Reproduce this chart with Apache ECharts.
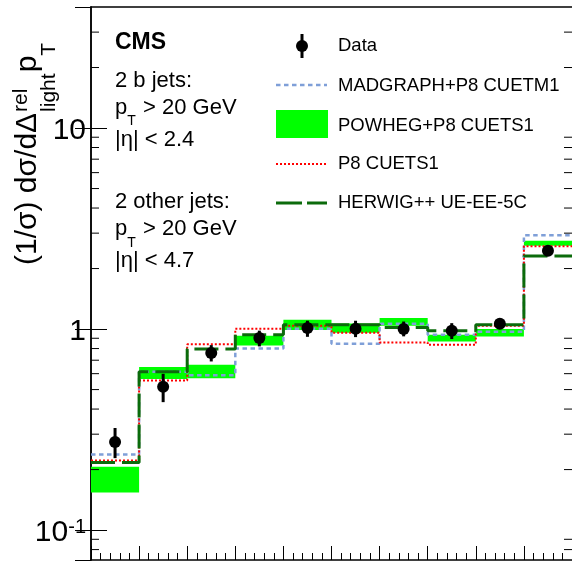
<!DOCTYPE html>
<html><head><meta charset="utf-8">
<script src="https://cdn.jsdelivr.net/npm/echarts@6/dist/echarts.min.js"></script>
<style>html,body{margin:0;padding:0;background:#fff}#c{width:572px;height:562px}</style>
</head><body><div id="c"></div>
<script>
// ---- data ----
const binEdges = [0, 0.1, 0.2, 0.3, 0.4, 0.5, 0.6, 0.7, 0.8, 0.9, 1.0];
const dataVal = [0.274, 0.516, 0.760, 0.902, 1.011, 1.003, 1.000, 0.980, 1.063, 2.45];
const dataLo  = [0.228, 0.433, 0.690, 0.820, 0.915, 0.912, 0.920, 0.892, 1.035, 2.38];
const dataHi  = [0.322, 0.599, 0.832, 0.982, 1.100, 1.100, 1.090, 1.070, 1.090, 2.52];
const madgraph = [0.238, 0.613, 0.590, 0.800, 1.003, 0.845, 1.063, 0.937, 0.970, 2.93];
const powhegLo = [0.154, 0.564, 0.570, 0.829, 0.990, 0.960, 1.039, 0.868, 0.919, 2.60];
const powhegHi = [0.2065, 0.647, 0.664, 0.926, 1.113, 1.065, 1.134, 0.937, 1.000, 2.75];
const p8 = [0.222, 0.555, 0.840, 1.003, 1.040, 0.960, 0.858, 0.835, 1.040, 2.58];
const herwig = [0.217, 0.613, 0.797, 0.938, 1.050, 1.050, 1.019, 0.980, 1.050, 2.31];
const yMajorTicks = [0.1, 1, 10];
const yMajorLabels = ['{b|10}{s|-1}', '{b|1}', '{b|10}'];
const yMinorTicks = [0.08, 0.09, 0.2, 0.3, 0.4, 0.5, 0.6, 0.7, 0.8, 0.9, 2, 3, 4, 5, 6, 7, 8, 9, 20, 30];
const seriesNames = ['Data', 'MADGRAPH+P8 CUETM1', 'POWHEG+P8 CUETS1', 'P8 CUETS1', 'HERWIG++ UE-EE-5C'];
const infoLines1 = ['2 b jets:', '|\u03b7| < 2.4'];
const infoLines2 = ['2 other jets:', '|\u03b7| < 4.7'];

// ---- style ----
const FONT = '"Liberation Sans", Arial, Helvetica, sans-serif';
const C_BLUE = '#7f9fd8', C_GREEN = '#00ff00', C_RED = '#ff0000', C_DKGREEN = '#0b6b0b';
const DASH_BLUE = [4.5, 3.5], DASH_RED = [2, 2], DASH_DK = [24, 7];

const measureCtx = document.createElement('canvas').getContext('2d');
function tw(t, size, weight) { measureCtx.font = (weight || 'normal') + ' ' + size + 'px ' + FONT; return measureCtx.measureText(t).width; }

function stepData(vals) {
  const d = vals.map((v, i) => [binEdges[i], v]);
  d.push([binEdges[vals.length], vals[vals.length - 1]]);
  return d;
}
function txt(x, y, text, size, opts) {
  opts = opts || {};
  return { type: 'text', x: x, y: y, z: 100, style: {
    text: text, fill: '#000', fontSize: size, fontFamily: FONT, fontWeight: opts.weight || 'normal',
    align: opts.align || 'left', verticalAlign: 'middle', textAlign: opts.align || 'left', textVerticalAlign: 'middle' } };
}

// ---- y-axis title (rotated) ----
const TF = 30, TS = 21;
const mainT = '(1/\u03c3) d\u03c3/d\u0394';
const wMain = tw(mainT, TF);
const xs = wMain + 1;
const xp = xs + Math.max(tw('rel', TS), tw('light', TS)) + 1;
const xT = xp + tw('p', TF);
const titleGroup = { type: 'group', x: 0, y: 265, rotation: Math.PI / 2, children: [
  txt(0, 38 - 0.35 * TF, mainT, TF),
  txt(xs, 29 - 0.35 * TS, 'rel', TS),
  txt(xs, 57 - 0.35 * TS, 'light', TS),
  txt(xp, 38 - 0.35 * TF, 'p', TF),
  txt(xT, 57 - 0.35 * TS, 'T', TS)
] };

// ---- info text ----
const IF = 22, SF = 14;
const info = [
  txt(115, 43, 'CMS', 23, { weight: 'bold' }),
  txt(115, 81, infoLines1[0], IF),
  txt(115, 107.5, 'p', IF), txt(115 + tw('p', IF), 121.5, 'T', SF), txt(143, 107.5, '> 20 GeV', IF),
  txt(115, 140, infoLines1[1], IF),
  txt(115, 201.5, infoLines2[0], IF),
  txt(115, 229, 'p', IF), txt(115 + tw('p', IF), 243, 'T', SF), txt(143, 229, '> 20 GeV', IF),
  txt(115, 260.5, infoLines2[1], IF)
];

// ---- legend ----
const LF = 18.5, LX = 338;
const legend = [
  { type: 'line', z: 100, shape: { x1: 302, y1: 34, x2: 302, y2: 58 }, style: { stroke: '#000', lineWidth: 3 } },
  { type: 'circle', z: 100, shape: { cx: 302, cy: 46, r: 6 }, style: { fill: '#000' } },
  txt(LX, 45.5, seriesNames[0], LF),
  { type: 'line', z: 100, shape: { x1: 276, y1: 85, x2: 327, y2: 85 }, style: { stroke: C_BLUE, lineWidth: 2.5, lineDash: DASH_BLUE } },
  txt(LX, 85.5, seriesNames[1], LF),
  { type: 'rect', z: 100, shape: { x: 276, y: 110, width: 52, height: 28 }, style: { fill: C_GREEN } },
  txt(LX, 126.3, seriesNames[2], LF),
  { type: 'line', z: 100, shape: { x1: 276, y1: 164, x2: 327, y2: 164 }, style: { stroke: C_RED, lineWidth: 2, lineDash: DASH_RED } },
  txt(LX, 163.7, seriesNames[3], LF),
  { type: 'line', z: 100, shape: { x1: 276, y1: 203, x2: 327, y2: 203 }, style: { stroke: C_DKGREEN, lineWidth: 3, lineDash: [26, 5] } },
  txt(LX, 203, seriesNames[4], LF)
];

// ---- chart ----
const chart = echarts.init(document.getElementById('c'), null, { renderer: 'canvas' });
const yAxisBase = {
  type: 'log', logBase: 10, min: 0.071, max: 40,
  axisLine: { show: true, lineStyle: { color: '#000', width: 1.5 } },
  axisTick: { show: true, inside: true, length: 16, lineStyle: { color: '#000', width: 1 } },
  splitLine: { show: false }, minorTick: { show: false }, minorSplitLine: { show: false }
};
function labelFor(value) {
  for (let i = 0; i < yMajorTicks.length; i++) {
    if (Math.abs(Math.log10(value) - Math.log10(yMajorTicks[i])) < 1e-6) return yMajorLabels[i];
  }
  return '';
}
const option = {
  animation: false,
  backgroundColor: '#fff',
  grid: { left: 91, right: 0, top: 7, bottom: 2, containLabel: false, outerBoundsMode: 'none' },
  xAxis: [
    { type: 'value', position: 'bottom', min: 0, max: 1, interval: 0.1,
      axisLine: { show: true, onZero: false, lineStyle: { color: '#000', width: 1.5 } },
      axisTick: { show: true, inside: true, length: 14, lineStyle: { color: '#000', width: 1 } },
      minorTick: { show: true, splitNumber: 5, length: 7, lineStyle: { color: '#000', width: 1 } },
      axisLabel: { show: false }, splitLine: { show: false } },
    { type: 'value', position: 'top', min: 0, max: 1,
      axisLine: { show: true, onZero: false, lineStyle: { color: '#000', width: 1.5 } },
      axisTick: { show: false }, axisLabel: { show: false }, splitLine: { show: false } }
  ],
  yAxis: [
    Object.assign({}, yAxisBase, { position: 'left',
      axisLabel: { show: true, margin: 5, showMinLabel: false, showMaxLabel: false, formatter: labelFor,
        rich: { b: { fontSize: 30, fontFamily: FONT, color: '#000', lineHeight: 36, padding: [5, 0, 0, 0] },
                s: { fontSize: 20, fontFamily: FONT, color: '#000', lineHeight: 20, verticalAlign: 'top', padding: [5, 0, 0, 0] } } } }),
    Object.assign({}, yAxisBase, { position: 'right', axisLabel: { show: false } })
  ],
  series: [
    { name: seriesNames[2], type: 'custom', z: 2, silent: true, clip: true,
      encode: { x: [0, 1], y: [2, 3] },
      data: powhegLo.map((lo, i) => [binEdges[i], binEdges[i + 1], lo, powhegHi[i]]),
      renderItem: function (params, api) {
        const p0 = api.coord([api.value(0), api.value(3)]);
        const p1 = api.coord([api.value(1), api.value(2)]);
        return { type: 'rect', shape: { x: p0[0], y: p0[1], width: p1[0] - p0[0], height: p1[1] - p0[1] }, style: { fill: C_GREEN } };
      } },
    { name: seriesNames[1], type: 'line', step: 'end', z: 3, symbol: 'none', silent: true,
      data: stepData(madgraph), lineStyle: { color: C_BLUE, width: 2.5, type: DASH_BLUE, cap: 'butt' } },
    { name: seriesNames[3], type: 'line', step: 'end', z: 3, symbol: 'none', silent: true,
      data: stepData(p8), lineStyle: { color: C_RED, width: 2, type: DASH_RED, cap: 'butt' } },
    { name: seriesNames[4], type: 'line', step: 'end', z: 4, symbol: 'none', silent: true,
      data: stepData(herwig), lineStyle: { color: C_DKGREEN, width: 3, type: DASH_DK, cap: 'butt' } },
    { name: seriesNames[0], type: 'custom', z: 6, silent: true,
      encode: { x: 0, y: [1, 2, 3] },
      data: dataVal.map((v, i) => [(binEdges[i] + binEdges[i + 1]) / 2, v, dataLo[i], dataHi[i]]),
      renderItem: function (params, api) {
        const c = api.coord([api.value(0), api.value(1)]);
        const lo = api.coord([api.value(0), api.value(2)]);
        const hi = api.coord([api.value(0), api.value(3)]);
        return { type: 'group', children: [
          { type: 'line', shape: { x1: c[0], y1: lo[1], x2: c[0], y2: hi[1] }, style: { stroke: '#000', lineWidth: 3 } },
          { type: 'circle', shape: { cx: c[0], cy: c[1], r: 6 }, style: { fill: '#000' } }
        ] };
      } },
    { name: 'yMinorTicks', type: 'custom', z: 7, silent: true, clip: false,
      encode: { x: 0, y: 1 },
      data: yMinorTicks.map(v => [0, v]),
      renderItem: function (params, api) {
        const v = api.value(1);
        const pL = api.coord([0, v]);
        const pR = api.coord([1, v]);
        return { type: 'group', children: [
          { type: 'line', shape: { x1: pL[0], y1: pL[1], x2: pL[0] + 8, y2: pL[1] }, style: { stroke: '#000', lineWidth: 1 } },
          { type: 'line', shape: { x1: pR[0] - 8, y1: pR[1], x2: pR[0], y2: pR[1] }, style: { stroke: '#000', lineWidth: 1 } }
        ] };
      } }
  ],
  graphic: { elements: [titleGroup].concat(info, legend) }
};
chart.setOption(option);
</script>
</body></html>
